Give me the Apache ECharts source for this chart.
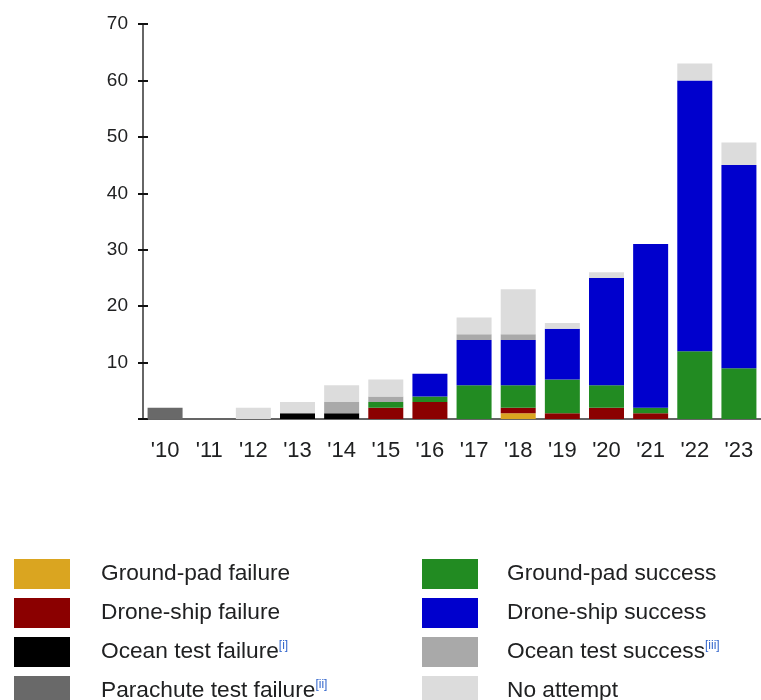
<!DOCTYPE html>
<html>
<head>
<meta charset="utf-8">
<script src="https://cdn.jsdelivr.net/npm/echarts@6/dist/echarts.min.js"></script>
<style>
  html, body { margin: 0; padding: 0; background: #fff; }
  #chart { width: 761px; height: 700px; }
</style>
</head>
<body>
<div id="chart"></div>
<script>
// years on the x axis
var years = ["'10", "'11", "'12", "'13", "'14", "'15", "'16", "'17", "'18", "'19", "'20", "'21", "'22", "'23"];
// landing outcomes per year, stacked bottom to top in this order
var groundPadFailure    = [0, 0, 0, 0, 0, 0, 0, 0, 1, 0, 0, 0, 0, 0];
var droneShipFailure    = [0, 0, 0, 0, 0, 2, 3, 0, 1, 1, 2, 1, 0, 0];
var oceanTestFailure    = [0, 0, 0, 1, 1, 0, 0, 0, 0, 0, 0, 0, 0, 0];
var parachuteFailure    = [2, 0, 0, 0, 0, 0, 0, 0, 0, 0, 0, 0, 0, 0];
var groundPadSuccess    = [0, 0, 0, 0, 0, 1, 1, 6, 4, 6, 4, 1, 12, 9];
var droneShipSuccess    = [0, 0, 0, 0, 0, 0, 4, 8, 8, 9, 19, 29, 48, 36];
var oceanTestSuccess    = [0, 0, 0, 0, 2, 1, 0, 1, 1, 0, 0, 0, 0, 0];
var noAttempt           = [0, 0, 2, 2, 3, 3, 0, 3, 8, 1, 1, 0, 3, 4];
var yTicks = [0, 10, 20, 30, 40, 50, 60, 70];

var font = 'Liberation Sans, Arial, sans-serif';
var textColor = '#202122';
var axisColor = '#333';

var seriesDefs = [
  { name: 'Ground-pad failure', color: '#DAA520', data: groundPadFailure },
  { name: 'Drone-ship failure', color: '#8B0000', data: droneShipFailure },
  { name: 'Ocean test failure', color: '#000000', data: oceanTestFailure },
  { name: 'Parachute test failure', color: '#696969', data: parachuteFailure },
  { name: 'Ground-pad success', color: '#228B22', data: groundPadSuccess },
  { name: 'Drone-ship success', color: '#0000CD', data: droneShipSuccess },
  { name: 'Ocean test success', color: '#A9A9A9', data: oceanTestSuccess },
  { name: 'No attempt', color: '#DCDCDC', data: noAttempt }
];
var notes = {
  'Ocean test failure': '[i]',
  'Parachute test failure': '[ii]',
  'Ocean test success': '[iii]'
};

function legendText(padLeft) {
  return {
    fontSize: 22.7,
    fontFamily: font,
    color: textColor,
    padding: [0, 0, 0, padLeft],
    rich: {
      sup: { fontSize: 12, fontFamily: font, color: '#3366cc', verticalAlign: 'top', padding: [0, 0, 12, 0] }
    }
  };
}
function legendFormatter(name) {
  return notes[name] ? name + '{sup|' + notes[name] + '}' : name;
}

var myChart = echarts.init(document.getElementById('chart'), null, { renderer: 'canvas' });

var yAxisBase = {
  type: 'value',
  min: yTicks[0],
  max: yTicks[yTicks.length - 1],
  interval: 10,
  splitLine: { show: false }
};

var option = {
  animation: false,
  backgroundColor: '#fff',
  grid: { left: 143, right: -4, top: 24, bottom: 281 },
  legend: [
    {
      orient: 'vertical', left: 9, top: 554, height: 220,
      itemWidth: 56, itemHeight: 30, itemGap: 9,
      icon: 'rect', selectedMode: false,
      data: seriesDefs.slice(0, 4).map(function (s) { return s.name; }),
      formatter: legendFormatter, textStyle: legendText(26)
    },
    {
      orient: 'vertical', left: 417, top: 554, height: 220,
      itemWidth: 56, itemHeight: 30, itemGap: 9,
      icon: 'rect', selectedMode: false,
      data: seriesDefs.slice(4).map(function (s) { return s.name; }),
      formatter: legendFormatter, textStyle: legendText(24)
    }
  ],
  xAxis: {
    type: 'category',
    data: years,
    axisLine: { lineStyle: { color: axisColor, width: 1.5 } },
    axisTick: { alignWithLabel: true, length: 15, lineStyle: { color: axisColor, width: 1.5 } },
    axisLabel: { fontSize: 22, fontFamily: font, color: textColor, margin: 21 }
  },
  yAxis: [
    Object.assign({}, yAxisBase, {
      axisLine: { show: true, lineStyle: { color: axisColor, width: 1.5 } },
      axisTick: { show: true, length: 5, lineStyle: { color: '#111', width: 2 } },
      axisLabel: {
        fontSize: 19, fontFamily: font, color: textColor, margin: 15,
        formatter: function (v) { return v === 0 ? '' : v; }
      }
    }),
    Object.assign({}, yAxisBase, {
      position: 'left',
      axisLine: { show: false },
      axisTick: { show: true, inside: true, length: 5, lineStyle: { color: '#111', width: 2 } },
      axisLabel: { show: false }
    })
  ],
  series: seriesDefs.map(function (s) {
    return {
      name: s.name,
      type: 'bar',
      stack: 'landings',
      barWidth: 35,
      itemStyle: { color: s.color },
      data: s.data
    };
  })
};

myChart.setOption(option);
</script>
</body>
</html>
